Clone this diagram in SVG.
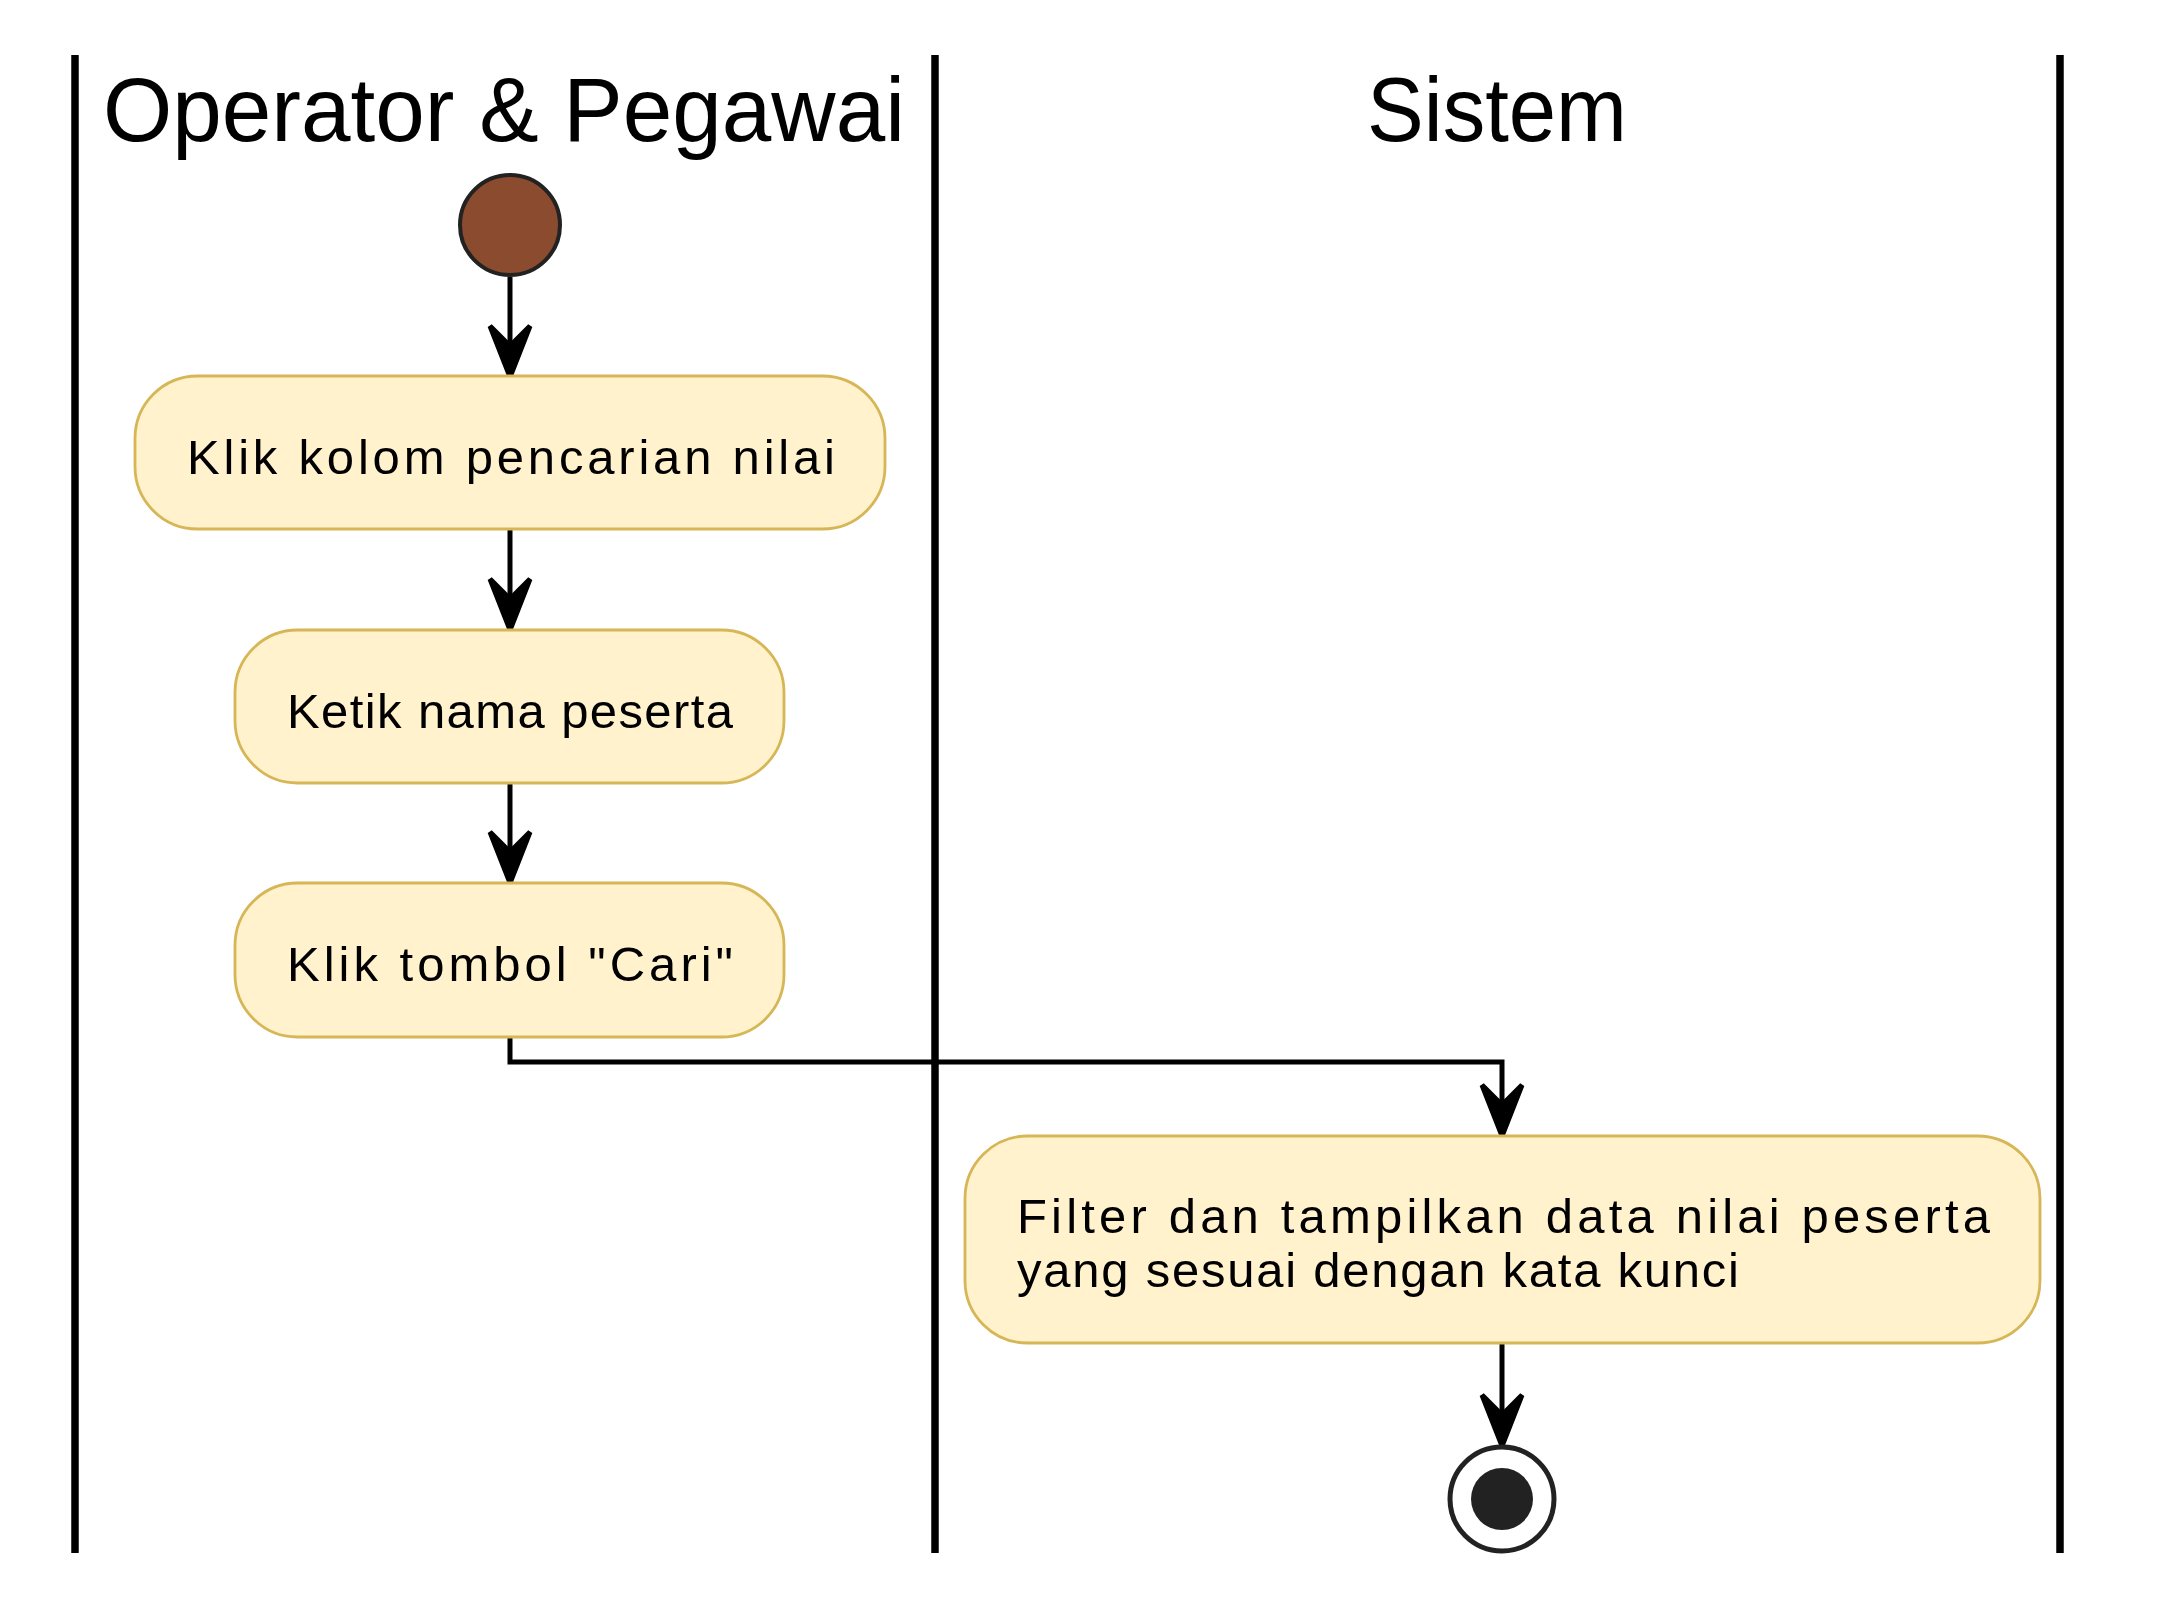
<svg xmlns="http://www.w3.org/2000/svg" width="2165" height="1610" viewBox="0 0 2165 1610">
<style>
.lane{stroke:#000;stroke-width:7.5;fill:none}
.title{font-family:"Liberation Sans",Arial,sans-serif;font-size:91px;fill:#000}
.act{fill:#FFF2CC;stroke:#D6B656;stroke-width:2.8}
.lbl{font-family:"Liberation Sans",Arial,sans-serif;font-size:49px;fill:#000}
.edge{stroke:#000;stroke-width:5;fill:none;marker-end:url(#ah)}
</style>
<defs>
<marker id="ah" markerUnits="userSpaceOnUse" viewBox="-60 -30 72 60" refX="0" refY="0" markerWidth="72" markerHeight="60" orient="auto" overflow="visible">
<path d="M0,0 L-51,-20 L-31,0 L-51,20 Z" fill="#000" stroke="#000" stroke-width="5"/>
</marker>
</defs>
<rect width="2165" height="1610" fill="#fff"/>
<g id="lanes">
<line class="lane" x1="75" y1="55" x2="75" y2="1553"/>
<line class="lane" x1="935" y1="55" x2="935" y2="1553"/>
<line class="lane" x1="2060" y1="55" x2="2060" y2="1553"/>
<text class="title" x="103" y="141" textLength="802" lengthAdjust="spacingAndGlyphs">Operator &amp; Pegawai</text>
<text class="title" x="1367" y="141" textLength="260" lengthAdjust="spacingAndGlyphs">Sistem</text>
</g>
<g id="connectors">
<path class="edge" d="M510,277 V377"/>
<path class="edge" d="M510,529 V630"/>
<path class="edge" d="M510,783 V883"/>
<path class="edge" d="M510,1037 V1062 H1502 V1136"/>
<path class="edge" d="M1502,1343 V1446"/>
</g>
<g id="start">
<circle cx="510" cy="225" r="50" fill="#8A4B2F" stroke="#222" stroke-width="4"/>
</g>
<g id="a1">
<rect class="act" x="135" y="376" width="750" height="153" rx="62.5" ry="62.5"/>
<text class="lbl" x="187" y="474" textLength="648" lengthAdjust="spacing">Klik kolom pencarian nilai</text>
</g>
<g id="a2">
<rect class="act" x="235" y="630" width="549" height="153" rx="62.5" ry="62.5"/>
<text class="lbl" x="287" y="728" textLength="446" lengthAdjust="spacing">Ketik nama peserta</text>
</g>
<g id="a3">
<rect class="act" x="235" y="883" width="549" height="154" rx="62.5" ry="62.5"/>
<text class="lbl" x="287" y="981" textLength="446" lengthAdjust="spacing">Klik tombol "Cari"</text>
</g>
<g id="a4">
<rect class="act" x="965" y="1136" width="1075" height="207" rx="62.5" ry="62.5"/>
<text class="lbl" x="1017" y="1233" textLength="973" lengthAdjust="spacing">Filter dan tampilkan data nilai peserta</text>
<text class="lbl" x="1017" y="1287" textLength="722" lengthAdjust="spacing">yang sesuai dengan kata kunci</text>
</g>
<g id="end">
<circle cx="1502" cy="1499" r="52" fill="#fff" stroke="#222" stroke-width="5"/>
<circle cx="1502" cy="1499" r="31" fill="#222"/>
</g>
</svg>
